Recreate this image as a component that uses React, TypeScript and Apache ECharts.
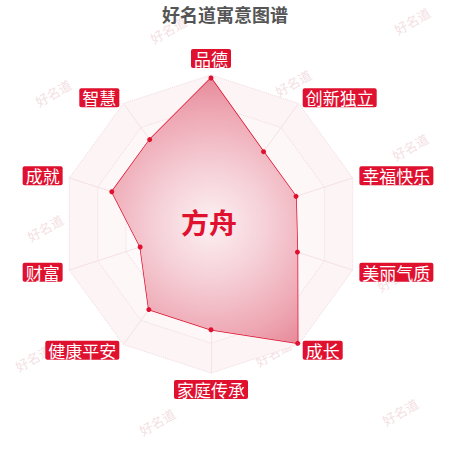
import React, { useEffect, useRef } from 'react';
import * as echarts from 'echarts';

// indicators in ECharts order (counter-clockwise from the top)
const indicatorNames = ['品德', '智慧', '成就', '财富', '健康平安', '家庭传承', '成长', '美丽气质', '幸福快乐', '创新独立'];
const scores = [98, 70, 70, 50, 71, 71, 99, 61, 60, 60];
const maxScore = 100;
const chartTitle = '好名道寓意图谱';
const nameText = '方舟';
const watermarkText = '好名道';

const RED = '#e0102f';

// faint rotated watermark marks behind the chart
const watermarkSpots: [number, number][] = [
  [168, 30], [412, 21], [53, 93], [293, 83], [45, 228], [410, 147],
  [303, 208], [395, 278], [273, 353], [33, 358], [157, 422], [400, 412],
  [175, 160], [160, 290],
];

export default function App() {
  const chartRef = useRef<HTMLDivElement>(null);

  useEffect(() => {
    document.body.style.margin = '0';
    if (!chartRef.current) return;
    const chart = echarts.init(chartRef.current, null, { renderer: 'svg' });

    const cx = 211;
    const cy = 224;
    const r = 149;

    const option = {
      animation: false,
      title: {
        text: chartTitle,
        left: 'center',
        top: 0,
        textStyle: { fontSize: 18, fontWeight: 'bold', color: '#555', fontFamily: 'Noto Sans CJK SC' },
      },
      graphic: [
        ...watermarkSpots.map(([x, y]) => ({
          type: 'text',
          x,
          y,
          rotation: Math.PI / 6,
          z: -10,
          silent: true,
          style: {
            text: watermarkText,
            fill: '#f4dfe4',
            fontSize: 13,
            fontFamily: 'Noto Sans CJK SC',
            align: 'center',
            verticalAlign: 'middle',
          },
        })),
        {
          type: 'text',
          x: 209,
          y: 222,
          z: 100,
          style: {
            text: nameText,
            fill: RED,
            fontSize: 28,
            fontWeight: 'bold',
            fontFamily: 'Noto Sans CJK SC',
            align: 'center',
            verticalAlign: 'middle',
          },
        },
      ],
      radar: {
        center: [cx, cy],
        radius: r,
        startAngle: 90,
        splitNumber: 5,
        shape: 'polygon',
        nameGap: 7,
        indicator: indicatorNames.map((name) => ({ name, max: maxScore })),
        axisName: {
          color: '#fff',
          backgroundColor: RED,
          fontSize: 17,
          lineHeight: 17,
          padding: [1, 3],
          borderRadius: 2,
          fontFamily: 'Noto Sans CJK SC',
        },
        axisLine: { lineStyle: { color: '#f5e1e6', width: 1 } },
        splitLine: { lineStyle: { color: '#f1d9df', type: 'dotted', width: 1 } },
        splitArea: {
          show: true,
          areaStyle: { color: ['#ffffff', '#fffdfd', '#fefafb', '#fdf7f8', '#fdf4f6'] },
        },
      },
      series: [
        {
          type: 'radar',
          symbol: 'circle',
          symbolSize: 5,
          data: [
            {
              value: scores,
              itemStyle: { color: RED },
              lineStyle: { color: RED, width: 1.5 },
              areaStyle: {
                opacity: 1,
                color: new echarts.graphic.RadialGradient(cx, cy, r, [
                  { offset: 0, color: '#fcf1f3' },
                  { offset: 0.4, color: '#f5cdd5' },
                  { offset: 0.75, color: '#eea8b4' },
                  { offset: 1, color: '#e68898' },
                ], true),
              },
            },
          ],
        },
      ],
    };

    chart.setOption(option);
    return () => chart.dispose();
  }, []);

  return <div ref={chartRef} style={{ width: 450, height: 450 }} />;
}
